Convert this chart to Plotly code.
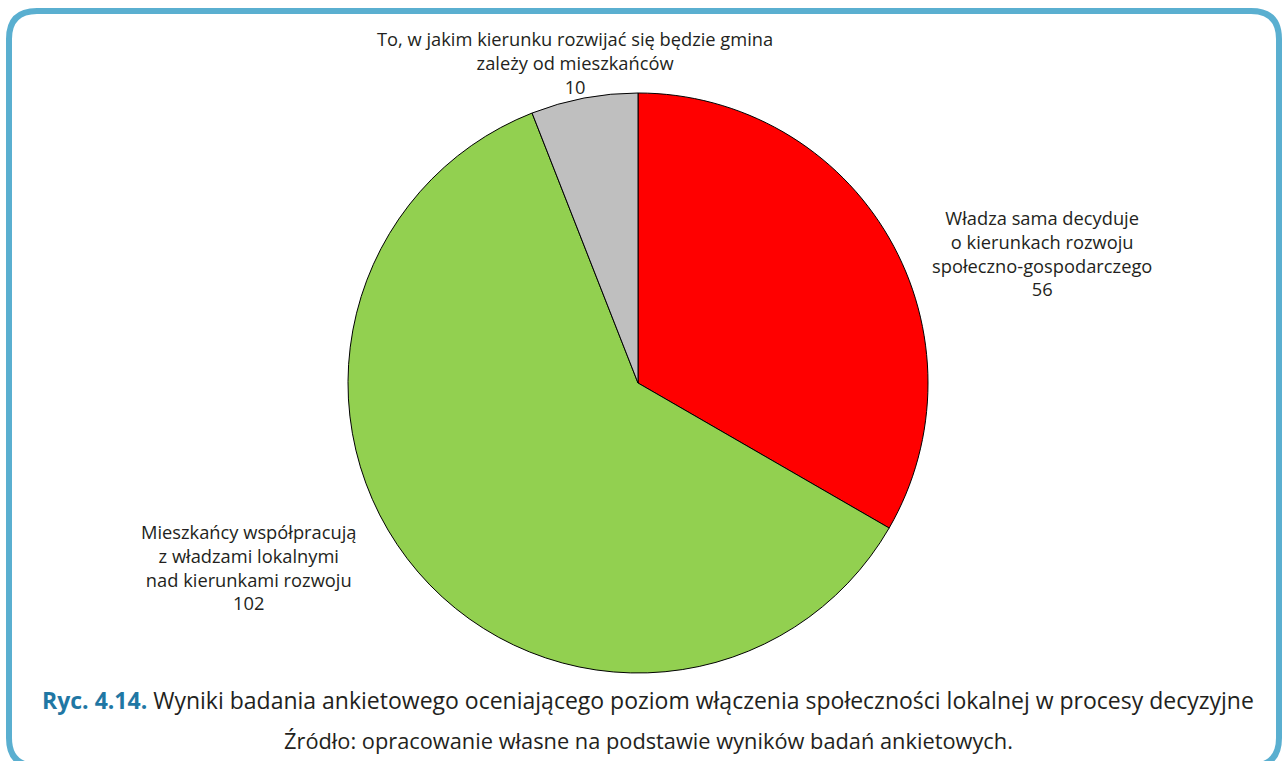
import plotly.graph_objects as go

labels = [
    "Władza sama decyduje<br>o kierunkach rozwoju<br>społeczno-gospodarczego",
    "Mieszkańcy współpracują<br>z władzami lokalnymi<br>nad kierunkami rozwoju",
    "To, w jakim kierunku rozwijać się będzie gmina<br>zależy od mieszkańców",
]
values = [56, 102, 10]
colors = ["#FF0000", "#92D050", "#BFBFBF"]

caption_bold = "Ryc. 4.14."
caption_text = "Wyniki badania ankietowego oceniającego poziom włączenia społeczności lokalnej w procesy decyzyjne"
source_text = "Źródło: opracowanie własne na podstawie wyników badań ankietowych."

W, H = 1282, 761

def px(x):
    return x / W

def py(y):
    return 1 - y / H

fig = go.Figure()
fig.add_trace(go.Pie(
    labels=labels,
    values=values,
    marker=dict(colors=colors, line=dict(color="#000000", width=1)),
    sort=False,
    direction="clockwise",
    rotation=0,
    textinfo="none",
    hoverinfo="label+value",
    showlegend=False,
    domain=dict(x=[px(348), px(928)], y=[py(673), py(93)]),
))

font_family = "Open Sans, Noto Sans, sans-serif"
label_pos = [(1042, 253), (248, 567), (575, 63)]
for lab, val, (x, y) in zip(labels, values, label_pos):
    fig.add_annotation(
        x=px(x), y=py(y), xref="paper", yref="paper",
        text=f"{lab}<br>{val}", showarrow=False,
        xanchor="center", yanchor="middle", align="center",
        font=dict(family=font_family, size=18.3, color="#231F20"),
    )

fig.add_annotation(
    x=px(648), y=py(700), xref="paper", yref="paper",
    text=f"<b><span style='color:#1F77A4'>{caption_bold}</span></b> {caption_text}",
    showarrow=False, xanchor="center", yanchor="middle",
    font=dict(family=font_family, size=23.0, color="#231F20"),
)
fig.add_annotation(
    x=px(648), y=py(740), xref="paper", yref="paper",
    text=source_text,
    showarrow=False, xanchor="center", yanchor="middle",
    font=dict(family=font_family, size=21.8, color="#231F20"),
)

# rounded border frame
l, t, r, b, rad = 9, 11, 1279, 766, 28
path = (
    f"M {px(l)},{py(t + rad)} "
    f"Q {px(l)},{py(t)} {px(l + rad)},{py(t)} "
    f"L {px(r - rad)},{py(t)} "
    f"Q {px(r)},{py(t)} {px(r)},{py(t + rad)} "
    f"L {px(r)},{py(b - rad)} "
    f"Q {px(r)},{py(b)} {px(r - rad)},{py(b)} "
    f"L {px(l + rad)},{py(b)} "
    f"Q {px(l)},{py(b)} {px(l)},{py(b - rad)} Z"
)
fig.add_shape(type="path", path=path, xref="paper", yref="paper",
              line=dict(color="#5AAFD0", width=6), layer="above")

fig.update_layout(
    width=W, height=H,
    margin=dict(l=0, r=0, t=0, b=0),
    paper_bgcolor="#FFFFFF",
    plot_bgcolor="#FFFFFF",
)

fig.write_html(
    "out.html",
    config={"displayModeBar": False},
    post_script="document.body.style.margin='0';document.body.style.overflow='hidden';",
)
